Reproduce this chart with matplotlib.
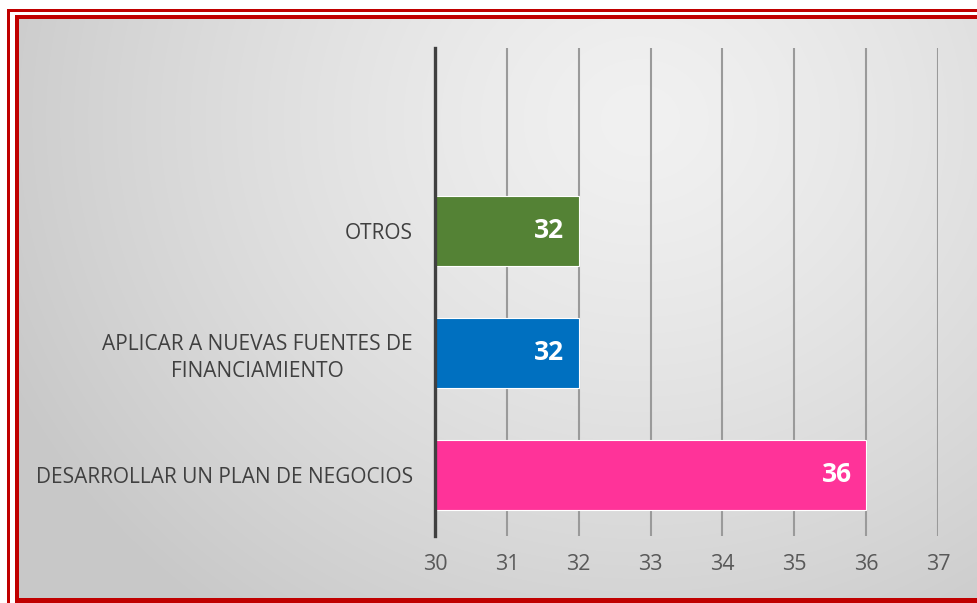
import numpy as np
import matplotlib
matplotlib.use("Agg")
import matplotlib.pyplot as plt
from matplotlib.patches import Rectangle

categories = ["DESARROLLAR UN PLAN DE NEGOCIOS",
              "APLICAR A NUEVAS FUENTES DE\nFINANCIAMIENTO",
              "OTROS"]
values = [36, 32, 32]
colors = ["#ff3399", "#0070c0", "#548235"]
xticks = [30, 31, 32, 33, 34, 35, 36, 37]

W, H = 977, 603
fig = plt.figure(figsize=(W / 100, H / 100), dpi=100)
fig.patch.set_facecolor("white")

# background gradient
bg = fig.add_axes([0, 0, 1, 1], zorder=0)
yy, xx = np.mgrid[0:H, 0:W]
d = np.sqrt(((xx - 640) / 1.0) ** 2 + ((yy - 120) / 0.9) ** 2)
t = np.clip(d / 700, 0, 1)
v = 0.945 - 0.16 * t ** 1.3
img = np.dstack([v, v, v])
bg.imshow(img, extent=[0, W, H, 0], aspect="auto", interpolation="bilinear")
bg.set_xlim(0, W)
bg.set_ylim(H, 0)
bg.axis("off")

def rect(x0, y0, x1, y1):
    bg.add_patch(Rectangle((x0, y0), x1 - x0, y1 - y0, facecolor="#c00000",
                           edgecolor="none", zorder=3))

bg.add_patch(Rectangle((0, 0), W, 15, facecolor="white", edgecolor="none", zorder=2))
bg.add_patch(Rectangle((0, 0), 15, H, facecolor="white", edgecolor="none", zorder=2))
rect(7, 9, W, 12)
rect(7, 9, 10, H)
rect(15, 15, W, 19)
rect(15, 15, 19, H)
rect(15, 598, W, H)

left = 435 / W
right = 938 / W
bottom = (H - 536) / H
top = (H - 48) / H
ax = fig.add_axes([left, bottom, right - left, top - bottom], zorder=1)
ax.patch.set_alpha(0)

ypos = np.arange(len(categories))
ax.barh(ypos, [v_ - 30 for v_ in values], left=30, height=0.58,
        color=colors, edgecolor="#ffffff", linewidth=0.8, zorder=3)

ax.set_xlim(30, 37)
ax.set_ylim(-0.5, 3.5)
ax.set_xticks(xticks)
ax.set_xticklabels([str(x) for x in xticks])
ax.set_yticks(ypos)
ax.set_yticklabels(categories)

ax.tick_params(axis="x", length=0, pad=13, labelsize=15.5, labelcolor="#595959")
ax.tick_params(axis="y", length=0, pad=16, labelsize=15, labelcolor="#404040")
for lab in ax.get_xticklabels() + ax.get_yticklabels():
    lab.set_fontfamily("Open Sans")
for lab in ax.get_yticklabels():
    lab.set_multialignment("center")
    lab.set_linespacing(1.35)

ax.grid(axis="x", color="#9a9a9a", linewidth=1.5, zorder=1)
ax.set_axisbelow(True)
for s in ["top", "right", "bottom"]:
    ax.spines[s].set_visible(False)
ax.spines["left"].set_color("#404040")
ax.spines["left"].set_linewidth(2.4)
ax.spines["left"].set_zorder(4)

for yi, val in zip(ypos, values):
    ax.text(val - 0.2, yi, str(val), ha="right", va="center", color="white",
            fontsize=19, fontweight="bold", fontfamily="Open Sans", zorder=5)

fig.savefig("out.png", dpi=100)
